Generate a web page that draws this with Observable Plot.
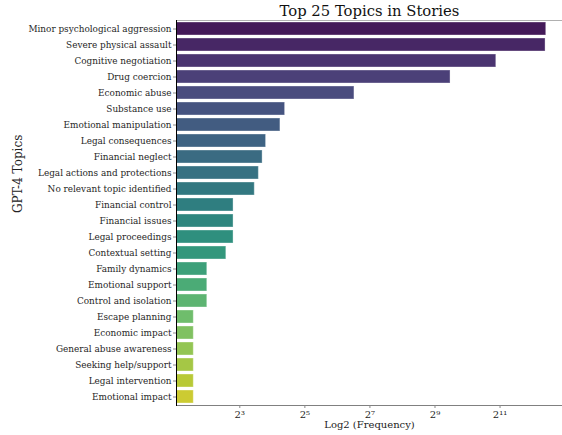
<!DOCTYPE html>
<html>
<head>
<meta charset="utf-8">
<script src="https://cdn.jsdelivr.net/npm/d3@7"></script>
<script src="https://cdn.jsdelivr.net/npm/@observablehq/plot@0.6"></script>
<style>
  html, body { margin: 0; padding: 0; background: #fff; }
  #chart svg { display: block; }
</style>
</head>
<body>
<div id="chart"></div>
<script>
const topics = [
  "Minor psychological aggression",
  "Severe physical assault",
  "Cognitive negotiation",
  "Drug coercion",
  "Economic abuse",
  "Substance use",
  "Emotional manipulation",
  "Legal consequences",
  "Financial neglect",
  "Legal actions and protections",
  "No relevant topic identified",
  "Financial control",
  "Financial issues",
  "Legal proceedings",
  "Contextual setting",
  "Family dynamics",
  "Emotional support",
  "Control and isolation",
  "Escape planning",
  "Economic impact",
  "General abuse awareness",
  "Seeking help/support",
  "Legal intervention",
  "Emotional impact"
];
const frequencies = [5480, 5400, 1890, 713, 92, 21, 19, 14, 13, 12, 11, 7, 7, 7, 6, 4, 4, 4, 3, 3, 3, 3, 3, 3];
const xTicks = [8, 32, 128, 512, 2048];
const xDomain = [2.076, 7750];
const titleText = "Top 25 Topics in Stories";
const xLabel = "Log2 (Frequency)";
const yLabel = "GPT-4 Topics";

const sup = {"0":"⁰","1":"¹","2":"²","3":"³","4":"⁴","5":"⁵","6":"⁶","7":"⁷","8":"⁸","9":"⁹"};
const fmtPow2 = v => "2" + String(Math.round(Math.log2(v))).split("").map(c => sup[c]).join("");

function desat(c, p) { const h = d3.hsl(c); h.s *= p; return h.formatHex(); }
const n = topics.length;
const colors = topics.map((_, i) => desat(d3.interpolateViridis((i + 1) / (n + 1)), 0.75));

const data = topics.map((t, i) => ({topic: t, value: frequencies[i], color: colors[i]}));

const font = "DejaVu Serif";

const chart = Plot.plot({
  width: 562,
  height: 435,
  marginLeft: 176,
  marginRight: 0,
  marginTop: 20,
  marginBottom: 30,
  style: {fontFamily: font, fontSize: "9px", color: "#262626", background: "#fff"},
  x: {type: "log", base: 2, domain: xDomain, range: [176, 562]},
  y: {domain: topics, padding: 0.2, paddingOuter: 0.1, align: 0.5},
  marks: [
    Plot.barX(data, {
      y: "topic",
      x1: () => xDomain[0],
      x2: "value",
      fill: "color",
      stroke: "white",
      strokeOpacity: 0.35,
      strokeWidth: 1
    }),
    Plot.frame({anchor: "top", stroke: "#b0b0b0"}),
    Plot.frame({anchor: "bottom", stroke: "#808080"}),
    Plot.frame({anchor: "left", stroke: "#000"}),
    Plot.axisX({
      ticks: xTicks,
      tickFormat: fmtPow2,
      tickSize: 3,
      tickPadding: 2,
      stroke: "#888",
      fontSize: 10,
      label: null
    }),
    Plot.axisY({
      tickSize: 3,
      tickPadding: 2,
      stroke: "#888",
      fontSize: 8.9,
      label: null
    }),
    Plot.text([titleText], {
      frameAnchor: "top",
      dy: -9,
      fontSize: 14.8,
      fill: "#111",
      lineAnchor: "middle"
    }),
    Plot.text([xLabel], {
      frameAnchor: "bottom",
      dy: 19,
      fontSize: 10,
      fill: "#222",
      lineAnchor: "middle"
    }),
    Plot.text([yLabel], {
      frameAnchor: "left",
      dx: -158,
      rotate: -90,
      fontSize: 12,
      fill: "#222",
      lineAnchor: "middle"
    })
  ]
});
document.getElementById("chart").appendChild(chart);
</script>
</body>
</html>
